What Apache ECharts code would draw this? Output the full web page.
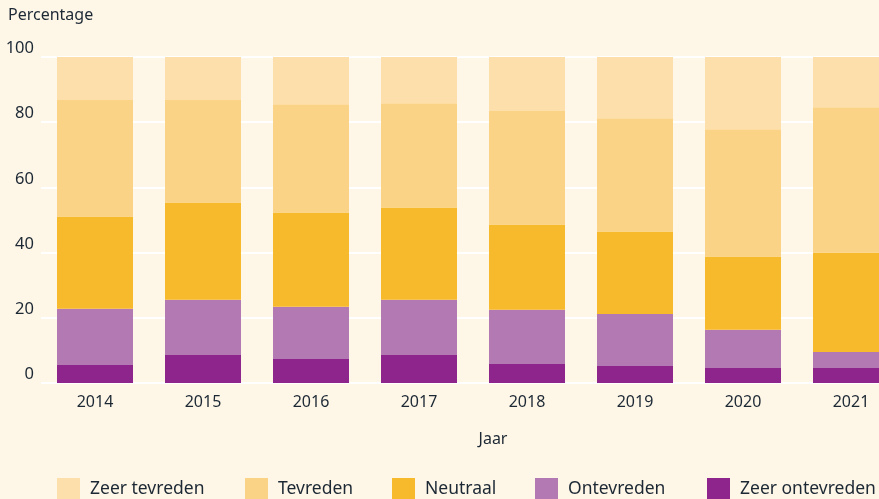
<!DOCTYPE html>
<html>
<head>
<meta charset="utf-8">
<script src="https://cdn.jsdelivr.net/npm/echarts@6/dist/echarts.min.js"></script>
<style>
  html, body { margin: 0; padding: 0; background: #fef6e7; }
  #chart { width: 879px; height: 499px; }
</style>
</head>
<body>
<div id="chart"></div>
<script>
const years = ['2014', '2015', '2016', '2017', '2018', '2019', '2020', '2021'];

const zeerOntevreden = [5.5, 8.6, 7.4, 8.6, 5.8, 5.2, 4.6, 4.6];
const ontevreden = [17.3, 16.9, 16.0, 16.9, 16.7, 16.0, 11.7, 4.9];
const neutraal = [28.3, 29.9, 28.9, 28.3, 26.1, 25.3, 22.5, 30.5];
const tevreden = [35.7, 31.4, 33.2, 32.0, 34.8, 34.7, 39.0, 44.6];
const zeerTevreden = [13.2, 13.2, 14.5, 14.2, 16.6, 18.8, 22.2, 15.4];

const yTicks = [0, 20, 40, 60, 80, 100];

const textColor = '#1c2834';
const font = 'Noto Sans';

const chart = echarts.init(document.getElementById('chart'));

const seriesDefs = [
    { name: 'Zeer ontevreden', data: zeerOntevreden, color: '#8e258d' },
    { name: 'Ontevreden', data: ontevreden, color: '#b279b3' },
    { name: 'Neutraal', data: neutraal, color: '#f8ba2d' },
    { name: 'Tevreden', data: tevreden, color: '#fbd387' },
    { name: 'Zeer tevreden', data: zeerTevreden, color: '#fddfab' }
];

// one legend per item so each can sit where the reference puts it
const legendSpots = [
    { name: 'Zeer tevreden', left: 57 },
    { name: 'Tevreden', left: 245 },
    { name: 'Neutraal', left: 392 },
    { name: 'Ontevreden', left: 535 },
    { name: 'Zeer ontevreden', left: 707 }
];

chart.setOption({
    backgroundColor: '#fef6e7',
    animation: false,
    textStyle: { fontFamily: font, color: textColor },
    title: {
        text: 'Percentage',
        left: 3,
        top: 2,
        textStyle: { fontFamily: font, fontSize: 16, fontWeight: 'normal', color: textColor }
    },
    legend: legendSpots.map(l => ({
        data: [l.name],
        left: l.left,
        top: 478,
        itemWidth: 23,
        itemHeight: 23,
        itemGap: 0,
        icon: 'rect',
        selectedMode: false,
        padding: 0,
        textStyle: { fontFamily: font, fontSize: 17.5, color: textColor, padding: [0, 0, 0, 5] }
    })),
    grid: {
        left: 41,
        top: 57,
        width: 864,
        height: 326,
        outerBoundsMode: 'none',
        containLabel: false
    },
    xAxis: {
        type: 'category',
        data: years,
        name: 'Jaar',
        nameLocation: 'middle',
        nameGap: 48,
        nameTextStyle: { fontFamily: font, fontSize: 16, color: textColor, padding: [0, 0, 0, 40] },
        axisLine: { show: false },
        axisTick: { show: false },
        axisLabel: { fontFamily: font, fontSize: 16, color: textColor, margin: 11 }
    },
    yAxis: {
        type: 'value',
        min: yTicks[0],
        max: yTicks[yTicks.length - 1],
        interval: 20,
        axisLine: { show: false },
        axisTick: { show: false },
        axisLabel: {
            fontFamily: font, fontSize: 16.5, color: textColor,
            margin: 7, verticalAlign: 'bottom'
        },
        splitLine: { show: true, lineStyle: { color: '#ffffff', width: 2 } }
    },
    series: seriesDefs.map(s => ({
        name: s.name,
        type: 'bar',
        stack: 'total',
        barWidth: 76,
        data: s.data,
        itemStyle: { color: s.color },
        emphasis: { disabled: true }
    }))
});
</script>
</body>
</html>
